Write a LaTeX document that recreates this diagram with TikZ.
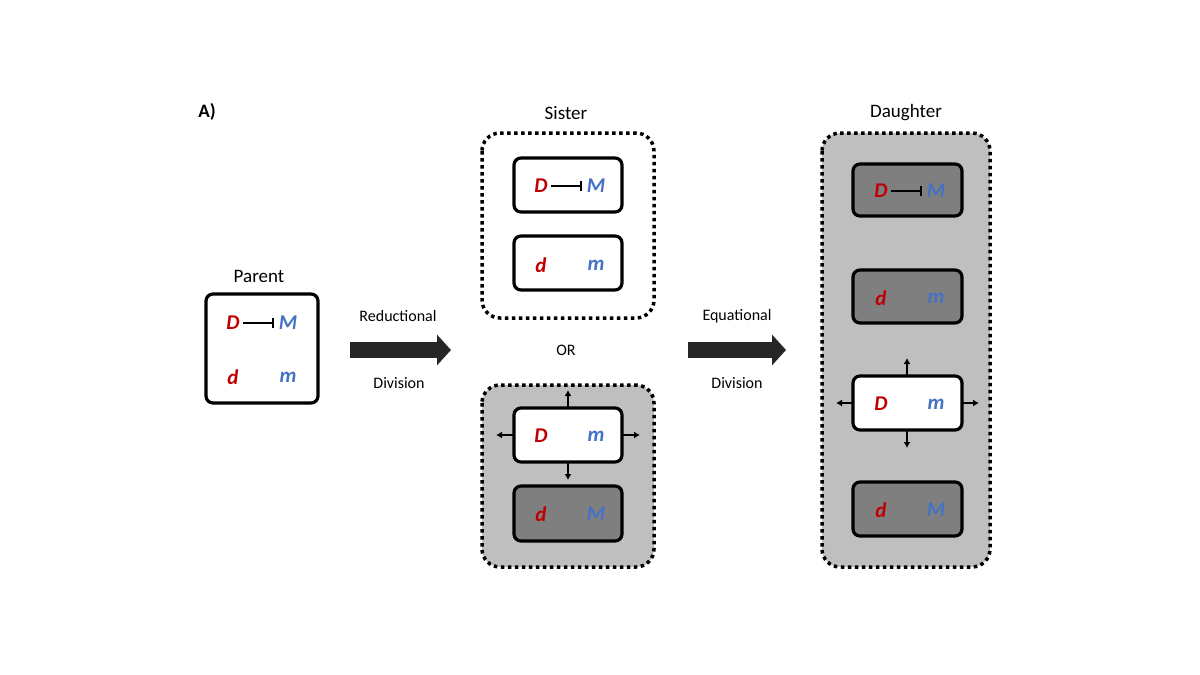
\documentclass[tikz,border=0pt]{standalone}
\usepackage{fontspec}
\setmainfont{Carlito}
\usetikzlibrary{arrows.meta}
\definecolor{rd}{HTML}{C00000}
\definecolor{bl}{HTML}{4472C4}
\definecolor{lg}{HTML}{BFBFBF}
\definecolor{dg}{HTML}{7F7F7F}
\begin{document}
\begin{tikzpicture}[x=1pt,y=-1pt,
 cell/.style={draw=black,line width=3.2pt,rounded corners=7pt},
 grp/.style={draw=black,line width=3.5pt,dash pattern=on 3.5pt off 3.5pt,rounded corners=18pt},
 lbl/.style={font=\fontsize{19}{21}\selectfont},
 small/.style={font=\fontsize{16}{18}\selectfont},
 R/.style={text=rd,font=\fontsize{21}{24}\selectfont\bfseries\itshape},
 B/.style={text=bl,font=\fontsize{21}{24}\selectfont\bfseries\itshape},
 inh/.style={line width=2.2pt,-{Bar[width=10pt]}},
 sm/.style={-{Latex[length=6pt,width=7pt]},line width=1.3pt},
 big/.style={-{Triangle[length=14pt,width=30pt]},line width=16pt,draw=black!85}]
\useasboundingbox (0,0) rectangle (1200,675);
\node[font=\fontsize{19}{21}\selectfont\bfseries] (A) at (207,112) {A)};
% Parent
\node[lbl] (pl) at (259,276) {Parent};
\draw[cell] (206,294) rectangle (318,403);
\node[R] (pD) at (233,323) {D};
\node[B] (pM) at (288,323) {M};
\node[R] (pd) at (233,377) {d};
\node[B] (pm) at (288,377) {m};
\draw[inh] (pD.east) -- ([xshift=-1pt]pM.west);
% arrow 1
\coordinate (a1s) at (350,350); \coordinate (a1e) at (451,350);
\draw[big] (a1s) -- (a1e);
\node[small] (r1) at (398,316) {Reductional};
\node[small] (d1) at (399,383) {Division};
% Sister
\node[lbl] (sl) at (566,113) {Sister};
\draw[grp] (482,133) rectangle (654,318);
\draw[cell,fill=white] (514,158) rectangle (622,212);
\node[R] (s1D) at (541,186) {D};
\node[B] (s1M) at (596,186) {M};
\draw[inh] (s1D.east) -- ([xshift=-1pt]s1M.west);
\draw[cell,fill=white] (514,236) rectangle (622,290);
\node[R] (s2d) at (541,265) {d};
\node[B] (s2m) at (596,265) {m};
\node[small] (or) at (566,350) {OR};
% lower group
\draw[grp,fill=lg] (482,385) rectangle (654,567);
\draw[cell,fill=white] (514,408) rectangle (622,462);
\node[R] (oD) at (541,436) {D};
\node[B] (om) at (596,436) {m};
\coordinate (ot) at (568,408); \coordinate (ob) at (568,462);
\coordinate (ol) at (514,435); \coordinate (or2) at (622,435);
\draw[sm] (ot) -- ++(0,-18);
\draw[sm] (ob) -- ++(0,18);
\draw[sm] (ol) -- ++(-18,0);
\draw[sm] (or2) -- ++(18,0);
\draw[cell,fill=dg] (514,486) rectangle (622,541);
\node[R] (o2d) at (541,514) {d};
\node[B] (o2M) at (596,514) {M};
% arrow 2
\coordinate (a2s) at (688,350); \coordinate (a2e) at (786,350);
\draw[big] (a2s) -- (a2e);
\node[small] (r2) at (737,316) {Equational};
\node[small] (d2) at (737,383) {Division};
% Daughter
\node[lbl] (dl) at (906,113) {Daughter};
\draw[grp,fill=lg] (822,133) rectangle (990,567);
\draw[cell,fill=dg] (853,164) rectangle (962,216);
\node[R] (q1D) at (881,191) {D};
\node[B] (q1M) at (936,191) {M};
\draw[inh] (q1D.east) -- ([xshift=-1pt]q1M.west);
\draw[cell,fill=dg] (853,270) rectangle (962,323);
\node[R] (q2d) at (881,298) {d};
\node[B] (q2m) at (936,298) {m};
\draw[cell,fill=white] (853,376) rectangle (962,430);
\node[R] (q3D) at (881,404) {D};
\node[B] (q3m) at (936,404) {m};
\coordinate (qt) at (907,376); \coordinate (qb) at (907,430);
\coordinate (ql) at (853,403); \coordinate (qr) at (962,403);
\draw[sm] (qt) -- ++(0,-18);
\draw[sm] (qb) -- ++(0,18);
\draw[sm] (ql) -- ++(-17,0);
\draw[sm] (qr) -- ++(17,0);
\draw[cell,fill=dg] (853,482) rectangle (962,536);
\node[R] (q4d) at (881,510) {d};
\node[B] (q4M) at (936,510) {M};
\end{tikzpicture}
\end{document}
